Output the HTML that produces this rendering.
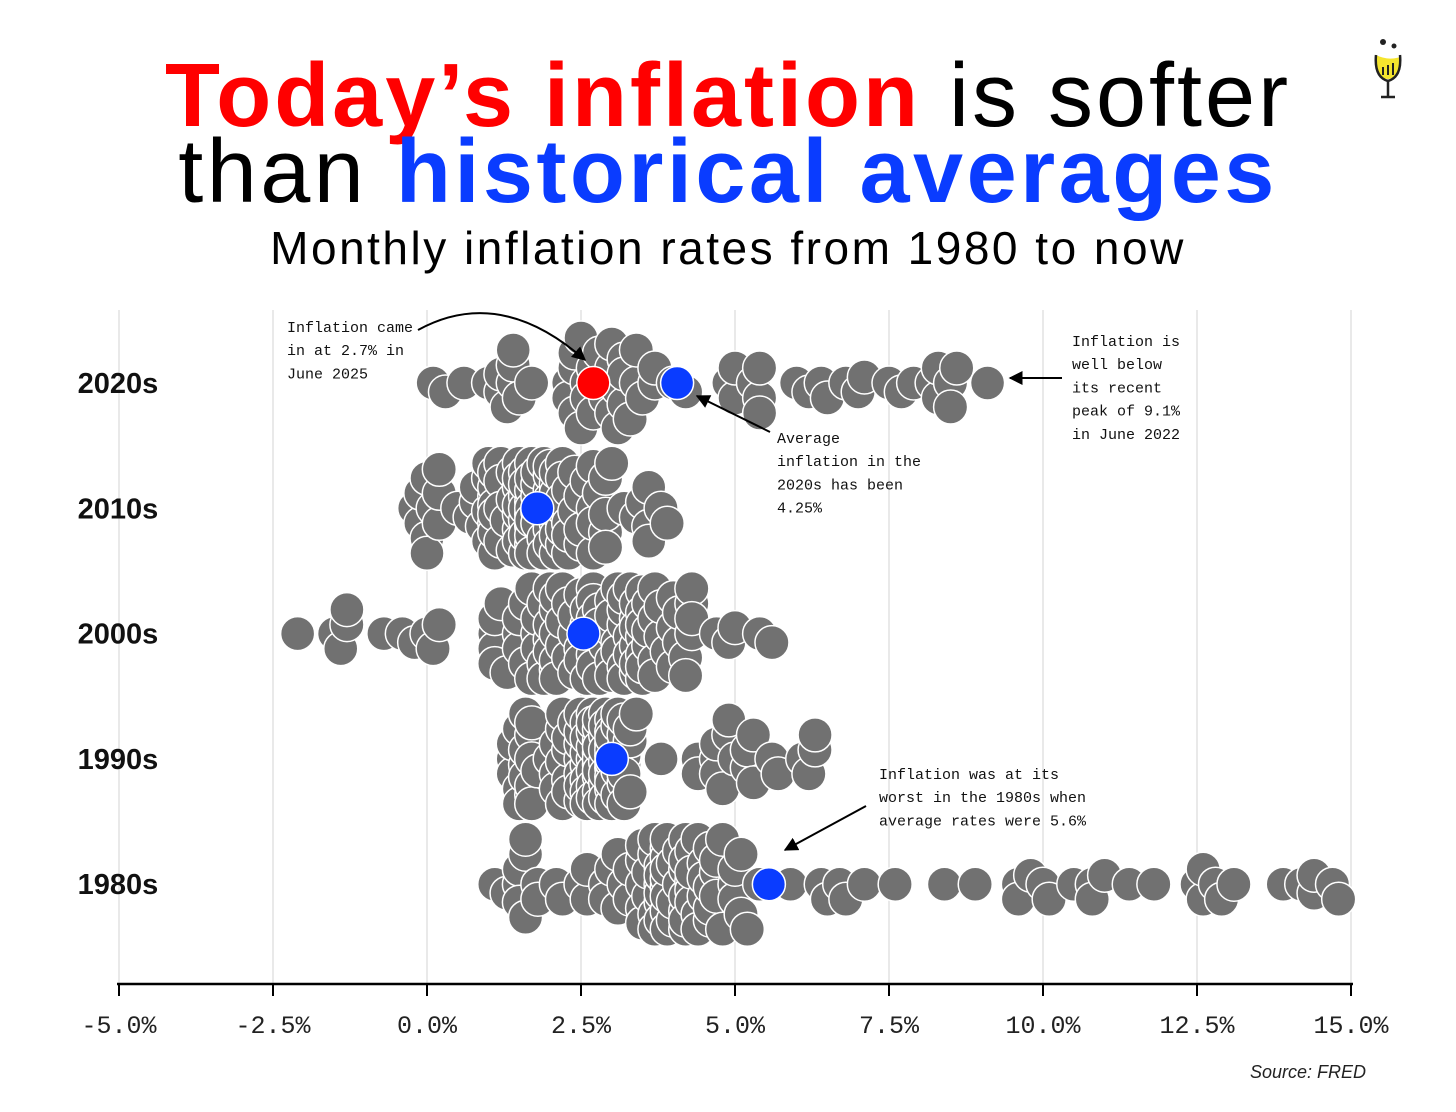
<!DOCTYPE html>
<html><head><meta charset="utf-8"><style>
body{margin:0;background:#fff;width:1456px;height:1112px;overflow:hidden;font-family:"Liberation Sans",sans-serif}
.t{position:absolute;left:0;width:1456px;text-align:center;white-space:nowrap}
.mono{font-family:"Liberation Mono",monospace}
</style></head><body>
<div class="t" style="top:46px;font-size:90px;line-height:100px;letter-spacing:3px"><b style="color:#f00">Today’s inflation</b> is softer</div>
<div class="t" style="top:122px;font-size:90px;line-height:100px;letter-spacing:3.5px">than <b style="color:#0a3cff">historical averages</b></div>
<div class="t" style="top:221px;font-size:46px;line-height:54px;letter-spacing:2.5px">Monthly inflation rates from 1980 to now</div>
<svg width="40" height="70" style="position:absolute;left:1368px;top:35px" viewBox="0 0 40 70">
<circle cx="15" cy="7" r="3" fill="#222"/><circle cx="26" cy="11" r="2.5" fill="#222"/>
<path d="M8 20 Q20 26 32 22 L30 40 Q20 48 10 40 Z" fill="#f5e52e"/>
<path d="M8 20 Q6 42 20 46 Q34 42 32 20" fill="none" stroke="#222" stroke-width="2.5"/>
<path d="M20 46 V61 M13 62 H27" stroke="#222" stroke-width="2.5"/>
<path d="M15 40 V32 M20 40 V30 M25 40 V28" stroke="#222" stroke-width="2"/>
</svg>
<svg id="chart" width="1456" height="1112" style="position:absolute;left:0;top:0">
<defs><marker id="ah" viewBox="0 0 10 10" refX="9" refY="5" markerWidth="7" markerHeight="7" orient="auto"><path d="M0 0 L10 5 L0 10 Z" fill="#000"/></marker></defs>
<g id="grid"></g><g id="dots"></g><g id="ann"></g>
</svg>
<div class="mono" style="position:absolute;left:1250px;top:1062px;font-family:'Liberation Sans',sans-serif;font-style:italic;font-size:18px;color:#222">Source: FRED</div>
<script>
const decades=["2020s","2010s","2000s","1990s","1980s"];
const ticks=[-5,-2.5,0,2.5,5,7.5,10,12.5,15];
const tickLabels=["-5.0%","-2.5%","0.0%","2.5%","5.0%","7.5%","10.0%","12.5%","15.0%"];
const v2020s=[2.5,2.3,1.5,0.3,0.1,0.6,1.0,1.3,1.4,1.2,1.2,1.4,1.4,1.7,2.6,4.2,5.0,5.4,5.4,5.3,5.4,6.2,6.8,7.0,7.5,7.9,8.5,8.3,8.6,9.1,8.5,8.3,8.2,7.7,7.1,6.5,6.4,6.0,5.0,4.9,4.0,3.0,3.2,3.7,3.7,3.2,3.1,3.4,3.1,3.2,3.5,3.4,3.3,3.0,2.9,2.5,2.4,2.6,2.7,2.9,3.0,2.8,2.4,2.3,2.4,2.7];
const v2010s=[2.6,2.1,2.3,2.2,2.0,1.1,1.2,1.1,1.1,1.2,1.1,1.5,1.6,2.1,2.7,3.2,3.6,3.6,3.6,3.8,3.9,3.5,3.4,3.0,2.9,2.9,2.7,2.3,1.7,1.7,1.4,1.7,2.0,2.2,1.8,1.7,1.6,2.0,1.5,1.1,1.4,1.8,2.0,1.5,1.2,1.0,1.2,1.5,1.6,1.1,1.5,2.0,2.1,2.1,2.0,1.7,1.7,1.7,1.3,0.8,-0.1,0.0,-0.1,-0.2,0.0,0.1,0.2,0.2,0.0,0.2,0.5,0.7,1.4,1.0,0.9,1.1,1.0,1.0,0.8,1.1,1.5,1.6,1.7,2.1,2.5,2.7,2.4,2.2,1.9,1.6,1.7,1.9,2.2,2.0,2.2,2.1,2.1,2.2,2.4,2.5,2.8,2.9,2.9,2.7,2.3,2.5,2.2,1.9,1.6,1.5,1.9,2.0,1.8,1.6,1.8,1.7,1.7,1.8,2.1,2.3];
const v2000s=[2.7,3.2,3.8,3.1,3.2,3.7,3.7,3.4,3.5,3.4,3.4,3.4,3.7,3.5,2.9,3.3,3.6,3.2,2.7,2.7,2.6,2.1,1.9,1.6,1.1,1.1,1.5,1.6,1.2,1.1,1.5,1.8,1.5,2.0,2.2,2.4,2.6,3.0,3.0,2.2,2.1,2.1,2.1,2.2,2.3,2.0,1.8,1.9,1.9,1.7,1.7,2.3,3.1,3.3,3.0,2.7,2.5,3.2,3.5,3.3,3.0,3.0,3.1,3.5,2.8,2.5,3.2,3.6,4.7,4.3,3.5,3.4,4.0,3.6,3.4,3.5,4.2,4.3,4.1,3.8,2.1,1.3,2.0,2.5,2.1,2.4,2.8,2.6,2.7,2.7,2.4,2.0,2.8,3.5,4.3,4.1,4.3,4.0,4.0,3.9,4.2,5.0,5.6,5.4,4.9,3.7,1.1,0.1,0.0,0.2,-0.4,-0.7,-1.3,-1.4,-2.1,-1.5,-1.3,-0.2,1.8,2.7];
const v1990s=[5.2,5.3,5.2,4.7,4.4,4.7,4.8,5.6,6.2,6.3,6.3,6.1,5.7,5.3,4.9,4.9,5.0,4.7,4.4,3.8,3.4,2.9,3.0,3.1,2.6,2.8,3.2,3.2,3.0,3.1,3.2,3.1,3.0,3.2,3.0,2.9,3.3,3.2,3.1,3.2,3.2,3.0,2.8,2.8,2.7,2.8,2.7,2.7,2.5,2.5,2.5,2.4,2.3,2.5,2.8,2.9,3.0,2.6,2.7,2.7,2.8,2.9,2.9,3.1,3.2,3.0,2.8,2.6,2.5,2.8,2.6,2.5,2.7,2.7,2.8,2.9,2.9,2.8,3.0,2.9,3.0,3.0,3.3,3.3,3.0,3.0,2.8,2.5,2.2,2.3,2.2,2.2,2.2,2.1,1.8,1.7,1.6,1.4,1.4,1.4,1.7,1.7,1.7,1.6,1.5,1.5,1.5,1.6,1.7,1.6,1.7,2.3,2.1,2.0,2.1,2.3,2.6,2.6,2.6,2.7];
const v1980s=[13.9,14.2,14.8,14.7,14.4,14.4,13.1,12.9,12.6,12.8,12.6,12.5,11.8,11.4,10.5,10.0,9.8,9.6,10.8,10.8,11.0,10.1,9.6,8.9,8.4,7.6,6.8,6.5,6.7,7.1,6.4,5.9,5.0,5.1,4.6,3.8,3.7,3.5,3.6,3.9,3.5,2.6,2.5,2.6,2.9,2.9,3.3,3.8,4.2,4.6,4.8,4.6,4.2,4.2,4.2,4.3,4.3,4.3,4.1,3.9,3.5,3.5,3.7,3.7,3.8,3.8,3.6,3.3,3.1,3.2,3.5,3.8,3.9,3.1,2.2,1.6,1.5,1.8,1.6,1.6,1.8,1.5,1.3,1.1,1.5,2.1,3.0,3.8,3.9,3.7,3.9,4.3,4.4,4.5,4.5,4.4,4.0,3.9,3.9,3.9,3.9,4.0,4.1,4.0,4.2,4.2,4.2,4.4,4.7,4.8,5.0,5.1,5.4,5.2,5.0,4.7,4.3,4.5,4.7,4.6];
const averages=[4.06,1.79,2.54,3.0,5.55];
const latest=2.7;
const series=[v2020s,v2010s,v2000s,v1990s,v1980s];

const NS="http://www.w3.org/2000/svg";
const x=v=>427+(v)*61.6;
const rowY=i=>383+i*125.3;
function mk(tag,attrs,parent){const e=document.createElementNS(NS,tag);for(const k in attrs)e.setAttribute(k,attrs[k]);parent.appendChild(e);return e;}
const grid=document.getElementById('grid'),dots=document.getElementById('dots'),ann=document.getElementById('ann');
ticks.forEach((t,i)=>{
  const gl=mk('line',{x1:x(t),x2:x(t),y1:310,y2:984,stroke:'#ddd','stroke-width':1.3},grid);
  
  
  const tm=mk('line',{x1:x(t),x2:x(t),y1:984,y2:996,stroke:'#000','stroke-width':2},grid);
  
  
  const tl=mk('text',{x:x(t),y:1033,'text-anchor':'middle','font-size':25,'font-family':'Liberation Mono, monospace',fill:'#222'},grid);
  tl.textContent=tickLabels[i];
  
  
});
const ax=mk('line',{x1:117,x2:1353,y1:984,y2:984,stroke:'#000','stroke-width':2.5},grid);


decades.forEach((d,i)=>{
  const tx=mk('text',{x:118,y:rowY(i)+10,'text-anchor':'middle','font-size':29,'font-weight':'bold',fill:'#111'},grid);
  tx.textContent=d;
  
  
});
const D=15, MAXOFF=45;
series.forEach((vals,i)=>{
  const cy0=rowY(i);const placed=[];
  const sorted=vals.slice().sort((a,b)=>a-b);
  sorted.forEach((v,k)=>{
    const px=x(v);let best=null,bestScore=-1,bestOff=0;
    for(let s=0;s<=2*MAXOFF/3;s++){
      const off=(s%2?1:-1)*Math.ceil(s/2)*3;
      let md=Infinity;placed.forEach(p=>{const d=Math.hypot(p[0]-px,p[1]-off);if(d<md)md=d;});
      if(md>=D){best=off;break;}
      if(md>bestScore){bestScore=md;bestOff=off;}
    }
    placed.push([px,best===null?bestOff:best]);
  });
  placed.forEach(p=>{
    const c=mk('circle',{cx:p[0],cy:cy0+p[1],r:17,fill:'#717171',stroke:'#fff','stroke-width':1.5},dots);
    
    
  });
  const a=mk('circle',{cx:x(averages[i]),cy:cy0,r:16.5,fill:'#0a3cff',stroke:'#fff','stroke-width':1.5},dots);
  
  
});
const r=mk('circle',{cx:x(latest),cy:rowY(0),r:16.5,fill:'#f00',stroke:'#fff','stroke-width':1.5},dots);



function note(lines,x0,y0,name){
  const t=mk('text',{x:x0,y:y0,'font-size':15,'font-family':'Liberation Mono, monospace',fill:'#111'},ann);
  
  
  lines.forEach((l,k)=>{const s=mk('tspan',{x:x0,y:y0+k*23.2},t);s.textContent=l;});
}
note(["Inflation came","in at 2.7% in","June 2025"],287,332,'annotation-june-2025');
note(["Inflation is","well below","its recent","peak of 9.1%","in June 2022"],1072,346,'annotation-peak');
note(["Average","inflation in the","2020s has been","4.25%"],777,443,'annotation-average-2020s');
note(["Inflation was at its","worst in the 1980s when","average rates were 5.6%"],879,779,'annotation-1980s');
function arrow(d,name){const p=mk('path',{d:d,fill:'none',stroke:'#000','stroke-width':2,'marker-end':'url(#ah)'},ann);
  
  }
arrow("M418 330 Q500 285 585 360",'arrow-june-2025');
arrow("M1062 378 L1010 378",'arrow-peak');
arrow("M770 432 L697 396",'arrow-average');
arrow("M866 806 L785 850",'arrow-1980s');
</script>
</body></html>
